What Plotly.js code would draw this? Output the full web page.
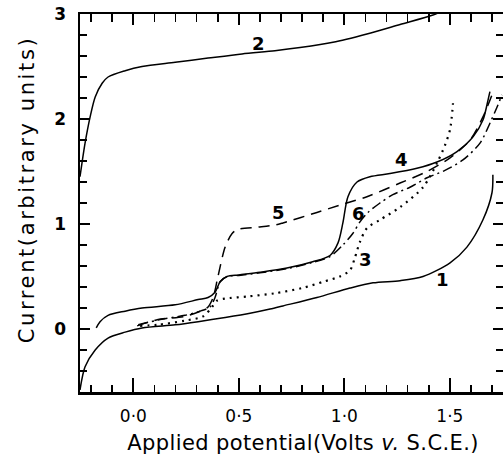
<!DOCTYPE html>
<html>
<head>
<meta charset="utf-8">
<script src="https://cdn.plot.ly/plotly-3.0.1.min.js"></script>
<style>html,body{margin:0;padding:0;background:#fff;}#chart{width:503px;height:459px;}</style>
</head>
<body>
<div id="chart"></div>
<script>
// Curve 1 (solid, lower)
const c1x = [-0.253,-0.229,-0.181,-0.120,-0.039,0.041,0.198,0.307,0.435,0.553,0.648,0.709,0.870,1.027,1.136,1.264,1.373,1.501,1.581,1.657,1.700,1.704];
const c1y = [-0.58,-0.36,-0.20,-0.086,-0.03,0.01,0.04,0.07,0.11,0.15,0.19,0.22,0.30,0.39,0.44,0.46,0.50,0.63,0.78,1.04,1.30,1.47];
// Curve 2 (solid, top)
const c2x = [-0.253,-0.229,-0.205,-0.181,-0.148,-0.120,-0.039,0.041,0.198,0.354,0.515,0.671,0.790,0.946,1.107,1.264,1.420,1.477];
const c2y = [1.45,1.77,2.02,2.21,2.34,2.40,2.46,2.50,2.54,2.58,2.62,2.65,2.68,2.73,2.81,2.90,2.99,3.04];
// Curve 3 (dotted)
const c3x = [0.032,0.117,0.245,0.330,0.373,0.396,0.435,0.544,0.671,0.800,0.900,0.979,1.027,1.050,1.074,1.107,1.169,1.264,1.373,1.439,1.477,1.501,1.515];
const c3y = [0.03,0.04,0.08,0.12,0.21,0.27,0.29,0.31,0.34,0.39,0.45,0.50,0.56,0.68,0.83,0.96,1.04,1.16,1.35,1.58,1.75,1.90,2.15];
// Curve 4 (solid, two-step wave)
const c4x = [-0.176,-0.158,-0.120,-0.039,0.041,0.198,0.307,0.354,0.387,0.411,0.444,0.500,0.600,0.728,0.850,0.932,0.970,0.993,1.017,1.060,1.121,1.216,1.344,1.439,1.534,1.610,1.657,1.681,1.690];
const c4y = [0.01,0.07,0.13,0.17,0.20,0.23,0.28,0.30,0.35,0.45,0.50,0.515,0.54,0.58,0.64,0.70,0.82,1.01,1.26,1.40,1.45,1.48,1.53,1.59,1.69,1.83,1.99,2.18,2.26];
// Curve 5 (dashed)
const c5x = [0.018,0.117,0.245,0.330,0.354,0.378,0.401,0.435,0.468,0.496,0.591,0.671,0.709,0.870,0.979,1.107,1.264,1.392,1.501,1.596,1.657,1.700];
const c5y = [0.03,0.09,0.12,0.18,0.21,0.30,0.50,0.78,0.91,0.95,0.97,0.99,1.01,1.11,1.18,1.26,1.39,1.50,1.63,1.80,2.02,2.23];
// Curve 6 (dash-dot)
const c6x = [0.023,0.127,0.245,0.316,0.363,0.387,0.411,0.444,0.500,0.600,0.728,0.850,0.932,0.993,1.040,1.074,1.112,1.169,1.230,1.311,1.392,1.477,1.562,1.643,1.690,1.723,1.747];
const c6y = [0.04,0.09,0.13,0.17,0.21,0.30,0.45,0.50,0.51,0.535,0.575,0.635,0.69,0.80,0.91,1.02,1.11,1.20,1.28,1.35,1.44,1.51,1.61,1.77,1.96,2.11,2.23];
// Curve labels
const labelText = ["1","2","3","4","5","6"];
const labelX = [1.465,0.591,1.102,1.273,0.686,1.065];
const labelY = [0.47,2.72,0.66,1.61,1.11,1.10];
// Tick labels
const xTickVals = [0,0.5,1.0,1.5];
const xTickText = ["0·0","0·5","1·0","1·5"];
const yTickVals = [0,1,2,3];
const yTickText = ["0","1","2","3"];

const font = "DejaVu Sans, sans-serif";
function tr(x, y, dash){
  return {x:x, y:y, type:'scatter', mode:'lines', line:{color:'#000', width:1.5, dash:dash, shape:'spline', smoothing:0.8}, hoverinfo:'skip', showlegend:false};
}
const data = [
  tr(c1x,c1y,'solid'),
  tr(c2x,c2y,'solid'),
  tr(c3x,c3y,'2px,5px'),
  tr(c4x,c4y,'solid'),
  tr(c5x,c5y,'11px,7px'),
  tr(c6x,c6y,'10px,4px,2px,4px')
];
data[2].line.width = 2.2;
// invisible trace on the top axis so that it is drawn
data.push({x:[c1x[0]], y:[c1y[0]], xaxis:'x2', yaxis:'y', type:'scatter', mode:'lines', line:{width:0}, hoverinfo:'skip', showlegend:false});

const annotations = labelText.map((t,i)=>({x:labelX[i], y:labelY[i], xref:'x', yref:'y', text:t, showarrow:false, font:{family:font, size:18, color:'#000', weight:'bold'}}));
annotations.push({xref:'paper', yref:'paper', x:(303-80)/423, y:-(443-392)/378, xanchor:'center', yanchor:'middle', text:'Applied potential(Volts <i>v.</i> S.C.E.)', showarrow:false, font:{family:font, size:21, color:'#000'}});
annotations.push({xref:'paper', yref:'paper', x:-(80-27)/423, y:(392-190)/378, xanchor:'center', yanchor:'middle', text:'Current(arbitrary units)', textangle:-90, showarrow:false, font:{family:font, size:21, color:'#000'}});

const layout = {
  width:503, height:459,
  margin:{l:80, r:0, t:14, b:67},
  paper_bgcolor:'#fff', plot_bgcolor:'#fff',
  showlegend:false,
  xaxis:{range:[-0.253,1.752], showgrid:false, zeroline:false, showline:true, linewidth:2.5, linecolor:'#000',
         ticks:'inside', ticklen:14, tickwidth:2, tickcolor:'#000', tickvals:xTickVals, ticktext:xTickText,
         tickfont:{family:font, size:17, color:'#000'}, ticklabelstandoff:7,
         minor:{dtick:0.1, tick0:0, ticks:'inside', ticklen:7, tickwidth:1.6, tickcolor:'#000'}},
  xaxis2:{overlaying:'x', side:'top', matches:'x', showgrid:false, zeroline:false, showline:true, linewidth:2, linecolor:'#000',
         ticks:'inside', ticklen:11, tickwidth:2, tickcolor:'#000', tickvals:xTickVals, showticklabels:false,
         minor:{dtick:0.1, tick0:0, ticks:'inside', ticklen:8, tickwidth:1.6, tickcolor:'#000'}},
  yaxis:{range:[-0.6,3.0], showgrid:false, zeroline:false, showline:true, linewidth:2.5, linecolor:'#000', mirror:'ticks',
         ticks:'inside', ticklen:10, tickwidth:2, tickcolor:'#000', tickvals:yTickVals, ticktext:yTickText,
         tickfont:{family:font, size:17, color:'#000', weight:'bold'}, ticklabelstandoff:8,
         minor:{dtick:0.2, tick0:0, ticks:'inside', ticklen:7, tickwidth:1.6, tickcolor:'#000'}},
  annotations:annotations
};
Plotly.newPlot('chart', data, layout, {staticPlot:true, displayModeBar:false}).then(function(gd){
  const texts = gd.querySelectorAll('.annotation-text');
  texts.forEach(function(t){
    const s = t.textContent;
    if (s.indexOf('Current') === 0) { t.style.letterSpacing = '2.6px'; }
    else if (s.indexOf('Applied') === 0) { t.style.letterSpacing = '0.4px'; }
  });
});
</script>
</body>
</html>
